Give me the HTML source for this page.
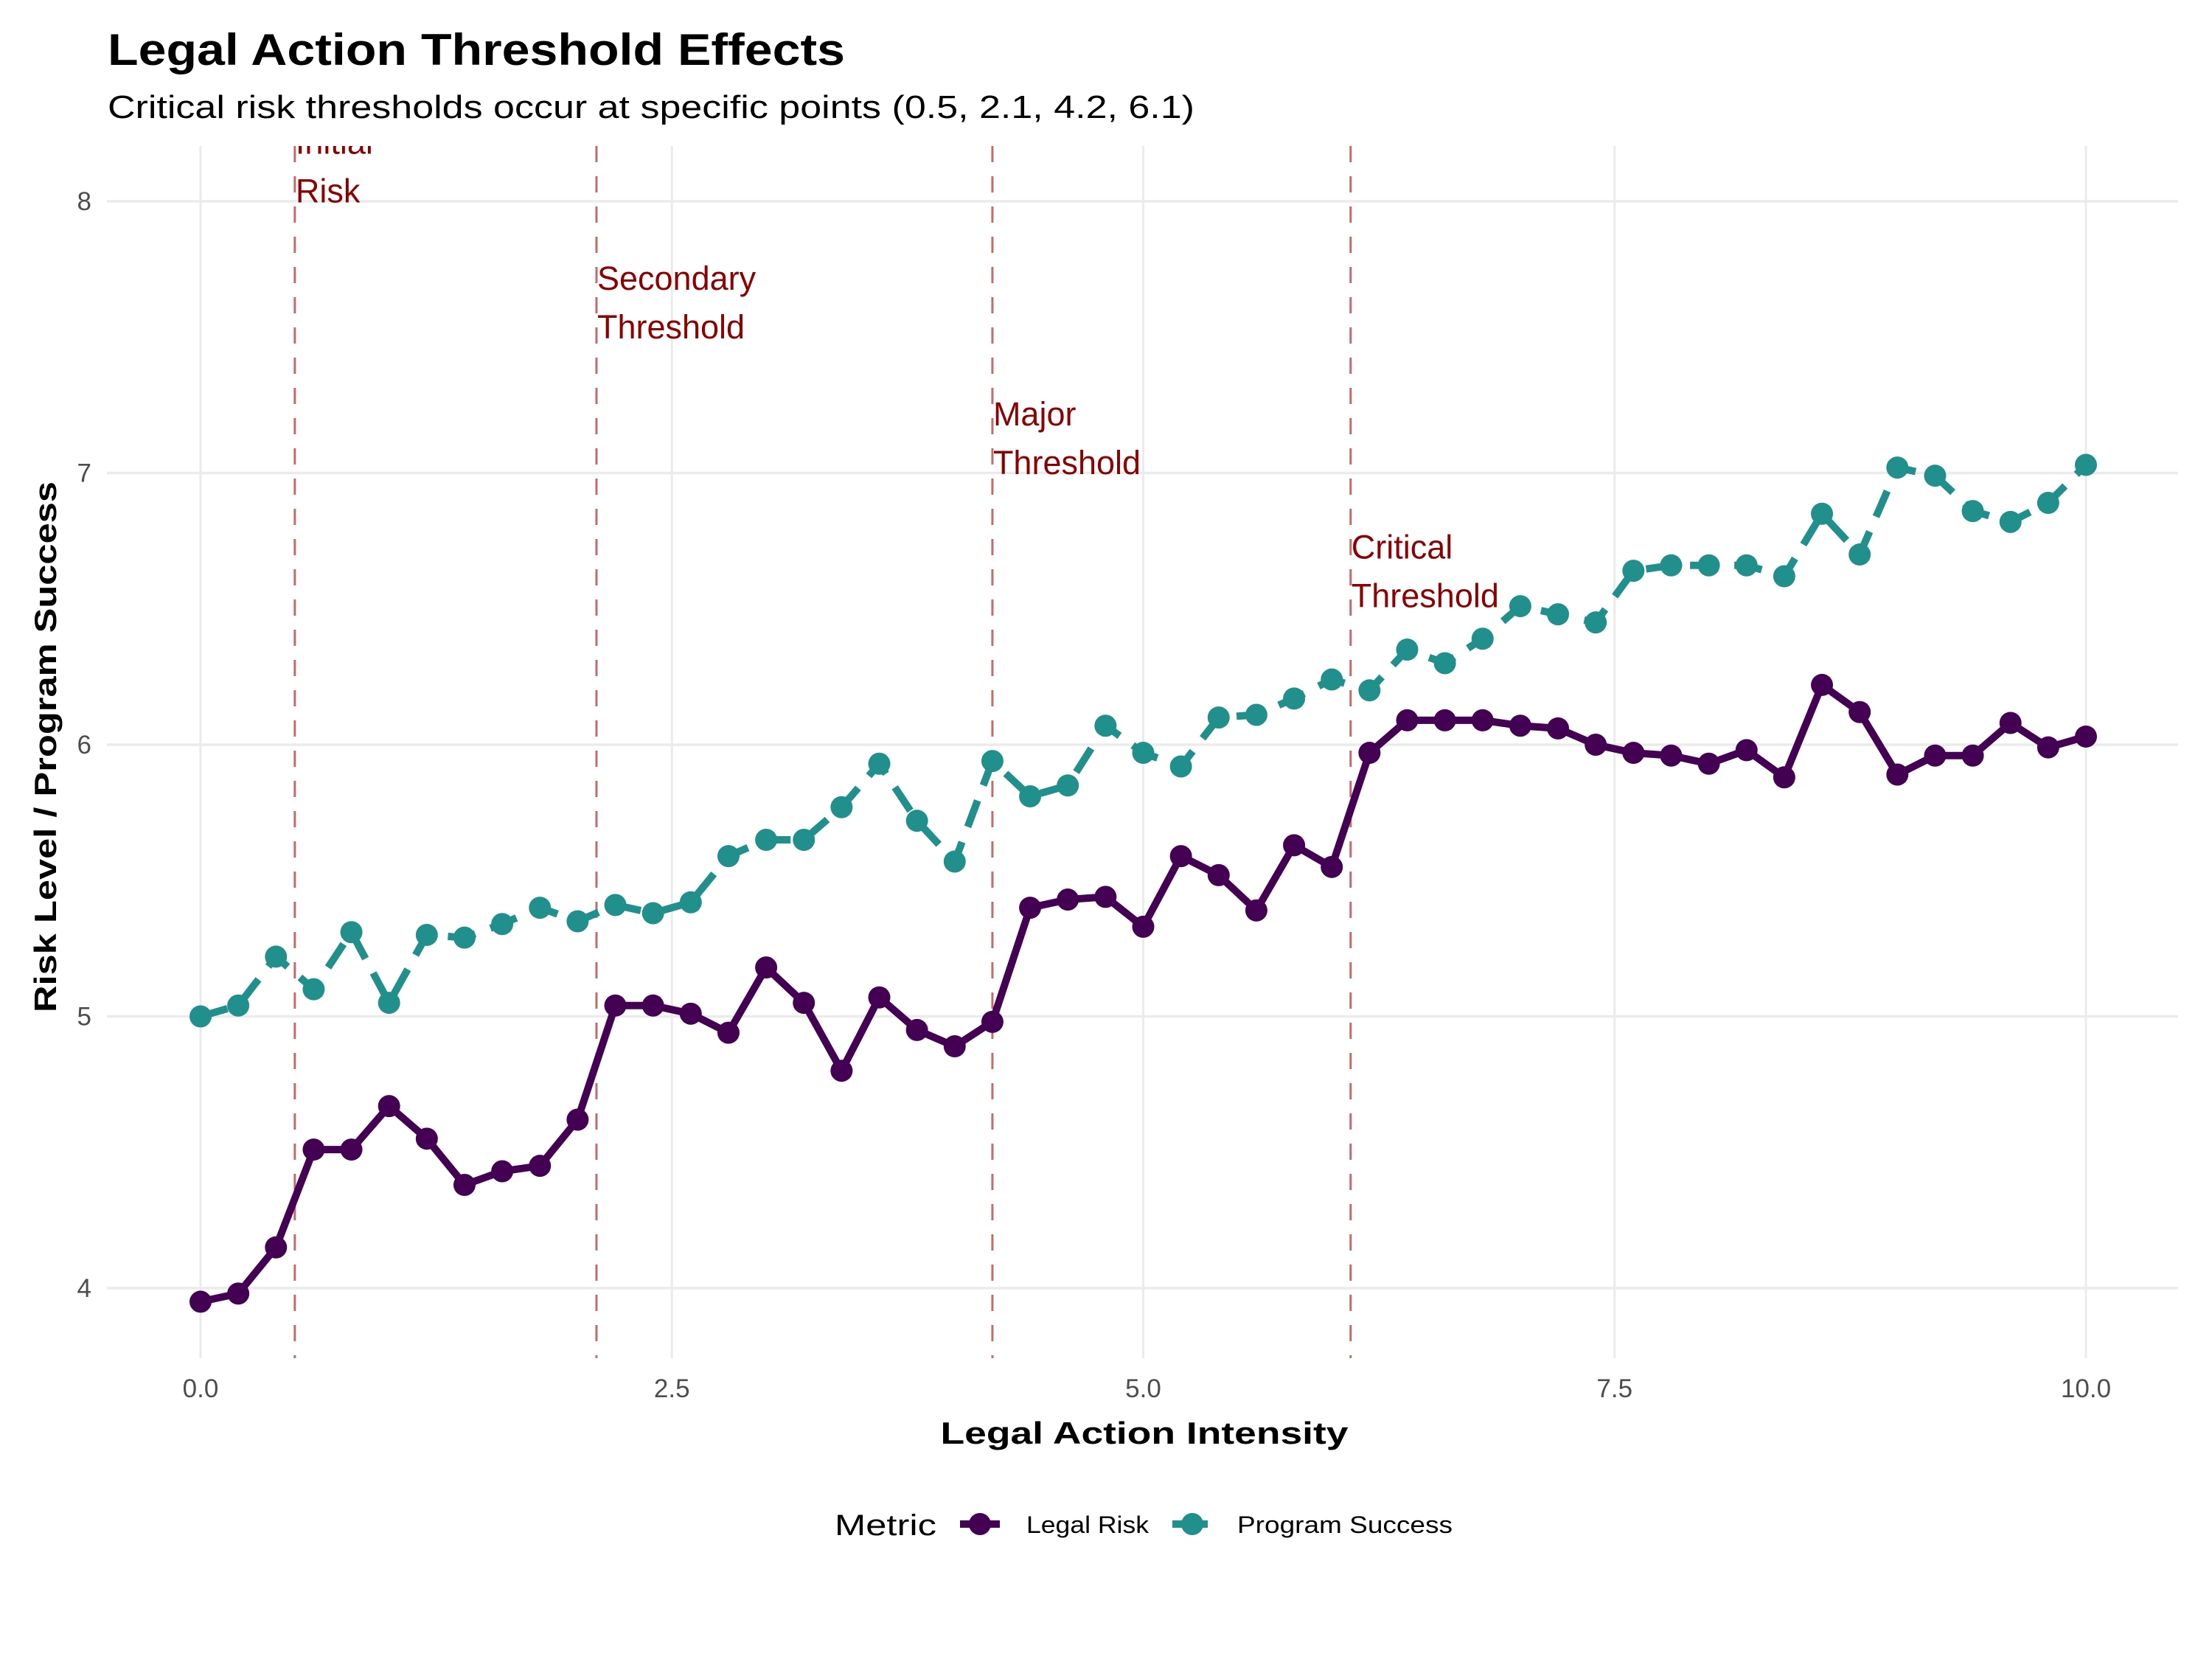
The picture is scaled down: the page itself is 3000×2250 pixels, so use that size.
<!DOCTYPE html>
<html><head><meta charset="utf-8">
<style>
html,body{margin:0;padding:0;background:#fff;}
svg{display:block;font-family:"Liberation Sans",sans-serif;}
</style></head>
<body>
<svg id="chart" width="3000" height="2250" viewBox="0 0 3000 2250">
<rect width="3000" height="2250" fill="#fff"/>
<text x="146" y="88" font-size="60" font-weight="bold" fill="#000" textLength="1000" lengthAdjust="spacingAndGlyphs">Legal Action Threshold Effects</text>
<text x="146" y="160" font-size="44" fill="#000" textLength="1474" lengthAdjust="spacingAndGlyphs">Critical risk thresholds occur at specific points (0.5, 2.1, 4.2, 6.1)</text>
<g id="grid"></g>
<g id="thresholds"></g>
<g id="series"></g>
<g id="axes"></g>
<text x="1552" y="1958" font-size="42" font-weight="bold" text-anchor="middle" fill="#000" textLength="553" lengthAdjust="spacingAndGlyphs">Legal Action Intensity</text>
<text transform="translate(76,1013) rotate(-90)" font-size="42" font-weight="bold" text-anchor="middle" fill="#000" textLength="720" lengthAdjust="spacingAndGlyphs">Risk Level / Program Success</text>
<g>
<text x="1132" y="2082" font-size="40" fill="#000" textLength="138" lengthAdjust="spacingAndGlyphs">Metric</text>
<g>
<line x1="1302" y1="2067" x2="1356" y2="2067" stroke="#440154" stroke-width="10"/>
<circle cx="1329" cy="2067" r="15" fill="#440154"/>
<text x="1392" y="2079" font-size="32" fill="#000" textLength="166" lengthAdjust="spacingAndGlyphs">Legal Risk</text>
</g>
<g>
<line x1="1590" y1="2067" x2="1644" y2="2067" stroke="#21908C" stroke-width="10" stroke-dasharray="20 8"/>
<circle cx="1617" cy="2067" r="15" fill="#21908C"/>
<text x="1678" y="2079" font-size="32" fill="#000" textLength="292" lengthAdjust="spacingAndGlyphs">Program Success</text>
</g>
</g>
</svg>
<script>
const xValues = [0,0.2,0.4,0.6,0.8,1,1.2,1.4,1.6,1.8,2,2.2,2.4,2.6,2.8,3,3.2,3.4,3.6,3.8,4,4.2,4.4,4.6,4.8,5,5.2,5.4,5.6,5.8,6,6.2,6.4,6.6,6.8,7,7.2,7.4,7.6,7.8,8,8.2,8.4,8.6,8.8,9,9.2,9.4,9.6,9.8,10];
const legalRisk = [3.95,3.98,4.15,4.51,4.51,4.67,4.55,4.38,4.43,4.45,4.62,5.04,5.04,5.01,4.94,5.18,5.05,4.80,5.07,4.95,4.89,4.98,5.40,5.43,5.44,5.33,5.59,5.52,5.39,5.63,5.55,5.97,6.09,6.09,6.09,6.07,6.06,6.00,5.97,5.96,5.93,5.98,5.88,6.22,6.12,5.89,5.96,5.96,6.08,5.99,6.03];
const programSuccess = [5.00,5.04,5.22,5.10,5.31,5.05,5.30,5.29,5.34,5.40,5.35,5.41,5.38,5.42,5.59,5.65,5.65,5.77,5.93,5.72,5.57,5.94,5.81,5.85,6.07,5.97,5.92,6.10,6.11,6.17,6.24,6.20,6.35,6.30,6.39,6.51,6.48,6.45,6.64,6.66,6.66,6.66,6.62,6.85,6.70,7.02,6.99,6.86,6.82,6.89,7.03];
const xTicks = [0,2.5,5,7.5,10];
const xTickLabels = ["0.0","2.5","5.0","7.5","10.0"];
const yTicks = [4,5,6,7,8];
const yTickLabels = ["4","5","6","7","8"];
const thresholdX = [0.5,2.1,4.2,6.1];
const thresholdLine1 = ["Initial","Secondary","Major","Critical"];
const thresholdLine2 = ["Risk","Threshold","Threshold","Threshold"];
const thresholdLabelY = [8.18,7.68,7.18,6.69];

const NS="http://www.w3.org/2000/svg";
const PL=145, PR=2954, PT=198, PB=1842;
function sx(v){return 272+(v-0)*(2829-272)/10;}
function sy(v){return 1747-(v-4)*(1747-273)/4;}
function mk(tag,attrs,parent){const e=document.createElementNS(NS,tag);for(const k in attrs)e.setAttribute(k,attrs[k]);parent.appendChild(e);return e;}

const grid=document.getElementById('grid');
const axes=document.getElementById('axes');
xTicks.forEach((t,i)=>{
  const l=mk('line',{x1:sx(t),x2:sx(t),y1:PT,y2:PB,stroke:'#ebebeb','stroke-width':3},grid);
  
  
  const tx=mk('text',{x:sx(t),y:1895,'font-size':35,'text-anchor':'middle',fill:'#4d4d4d'},axes);
  tx.textContent=xTickLabels[i];
  
  
});
yTicks.forEach((t,i)=>{
  const l=mk('line',{x1:PL,x2:PR,y1:sy(t),y2:sy(t),stroke:'#ebebeb','stroke-width':3.5},grid);
  
  
  const tx=mk('text',{x:124,y:sy(t)+12,'font-size':35,'text-anchor':'end',fill:'#4d4d4d'},axes);
  tx.textContent=yTickLabels[i];
  
  
});

const defs=mk('defs',{},document.getElementById('chart'));
const cp=mk('clipPath',{id:'panel'},defs);
mk('rect',{x:PL,y:PT,width:PR-PL,height:PB-PT},cp);

const th=document.getElementById('thresholds');
th.setAttribute('clip-path','url(#panel)');
thresholdX.forEach((t,i)=>{
  const l=mk('line',{x1:sx(t),x2:sx(t),y1:PT,y2:PB,stroke:'#c46a6a','stroke-width':3,'stroke-dasharray':'22 19'},th);
  
  
  const y=sy(thresholdLabelY[i]);
  const a=mk('text',{x:sx(t)+1,y:y+2,'font-size':45,fill:'#8B0000'},th);
  a.textContent=thresholdLine1[i];
  
  
  const b=mk('text',{x:sx(t)+1,y:y+68,'font-size':45,fill:'#8B0000'},th);
  b.textContent=thresholdLine2[i];
  
  
});

const sg=document.getElementById('series');
function drawSeries(vals,color,dash,name){
  const g=mk('g',{},sg);
  
  
  const pts=vals.map((v,i)=>sx(xValues[i])+','+sy(v)).join(' ');
  const attrs={points:pts,fill:'none',stroke:color,'stroke-width':10,'stroke-linejoin':'round'};
  if(dash)attrs['stroke-dasharray']=dash;
  const pl=mk('polyline',attrs,g);
  
  
  vals.forEach((v,i)=>{
    const c=mk('circle',{cx:sx(xValues[i]),cy:sy(v),r:15,fill:color},g);
    
    
  });
}
drawSeries(programSuccess,'#21908C','38 22','program-success');
drawSeries(legalRisk,'#440154',null,'legal-risk');
</script>
</body></html>
